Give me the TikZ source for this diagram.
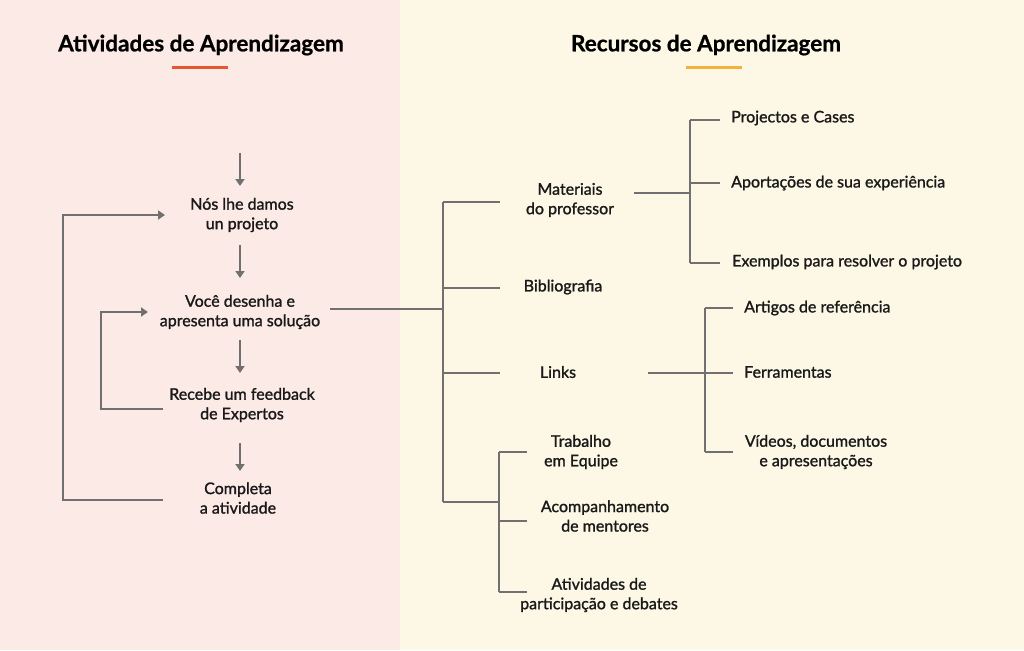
\documentclass[tikz,border=0pt]{standalone}
\usepackage{fontspec}
\setmainfont{Lato}[FakeBold=1.3]
\newfontfamily\titlefont{Lato}[FakeBold=0.8]
\usetikzlibrary{arrows.meta}
\definecolor{leftbg}{HTML}{FBEAE5}
\definecolor{rightbg}{HTML}{FDF8E5}
\definecolor{linegray}{HTML}{707070}
\definecolor{redline}{HTML}{E4572E}
\definecolor{yellowline}{HTML}{F2B33D}
\tikzset{
  txt/.style={font=\fontsize{16}{19.5}\selectfont, align=center, inner sep=1pt, text=black!90},
  ltxt/.style={txt, anchor=west},
  ttl/.style={font=\titlefont\fontsize{22.5}{26}\selectfont\bfseries},
  con/.style={draw=linegray, line width=1.8pt},
  arr/.style={con, -{Triangle[length=7pt,width=9pt]}}
}
\begin{document}
\begin{tikzpicture}[x=1pt,y=-1pt]
\useasboundingbox (0,0) rectangle (1024,650);
\fill[leftbg] (0,0) rectangle (400,650);
\fill[rightbg] (400,0) rectangle (1024,650);

%TITEL
\node[ttl] (tleft) at (201,45) {Atividades de Aprendizagem};
\draw[redline, line width=3pt] (172,68) -- (228,68);
\node[ttl] (tright) at (706,45) {Recursos de Aprendizagem};
\draw[yellowline, line width=3pt] (686,68) -- (742,68);

%ATIVIDADEN
\node[txt] (projeto) at (242,215) {Nós lhe damos\\un projeto};
\node[txt] (solucao) at (240,312) {Você desenha e\\apresenta uma solução};
\node[txt] (feedback) at (242,405) {Recebe um feedback\\de Expertos};
\node[txt] (completa) at (238,498) {Completa\\a atividade};
\coordinate (start) at (240,153);
\draw[arr] (start) -- (240,186);
\draw[arr] (240,245) -- (240,278);
\draw[arr] (240,340) -- (240,373);
\draw[arr] (240,443) -- (240,471);
\draw[arr] (163,500) -- (63,500) -- (63,215) -- (165,215);
\draw[arr] (163,409) -- (101,409) -- (101,312) -- (148,312);

%RECURSOS
\node[txt] (materiais) at (570,200) {Materiais\\do professor};
\node[txt] (biblio) at (563,287) {Bibliografia};
\node[txt] (links) at (558,372) {Links};
\node[txt] (trabalho) at (581,452) {Trabalho\\em Equipe};
\node[txt] (mentores) at (605,516) {Acompanhamento\\de mentores};
\node[txt] (debates) at (599,595) {Atividades de\\participação e debates};
\draw[con] (330,309) -- (443,309);
\draw[con] (443,202) -- (443,502);
\foreach \y in {202,288,373,502} \draw[con] (443,\y) -- (500,\y);
\draw[con] (499,452) -- (499,592);
\foreach \y in {452,521,592} \draw[con] (499,\y) -- (527,\y);

%MATERIAIS
\node[ltxt] (cases) at (730,118) {Projectos e Cases};
\node[ltxt] (aporta) at (730,183) {Aportações de sua experiência};
\node[ltxt] (exemplos) at (731,262) {Exemplos para resolver o projeto};
\draw[con] (634,193) -- (690,193);
\draw[con] (690,120) -- (690,263);
\foreach \y in {120,183,263} \draw[con] (690,\y) -- (720,\y);

%LINKS
\node[ltxt] (artigos) at (743,308) {Artigos de referência};
\node[ltxt] (ferram) at (743,372) {Ferramentas};
\node[txt] (videos) at (816,452) {Vídeos, documentos\\e apresentações};
\draw[con] (648,373) -- (705,373);
\draw[con] (705,308) -- (705,452);
\foreach \y in {308,373,452} \draw[con] (705,\y) -- (733,\y);
\end{tikzpicture}
\end{document}
